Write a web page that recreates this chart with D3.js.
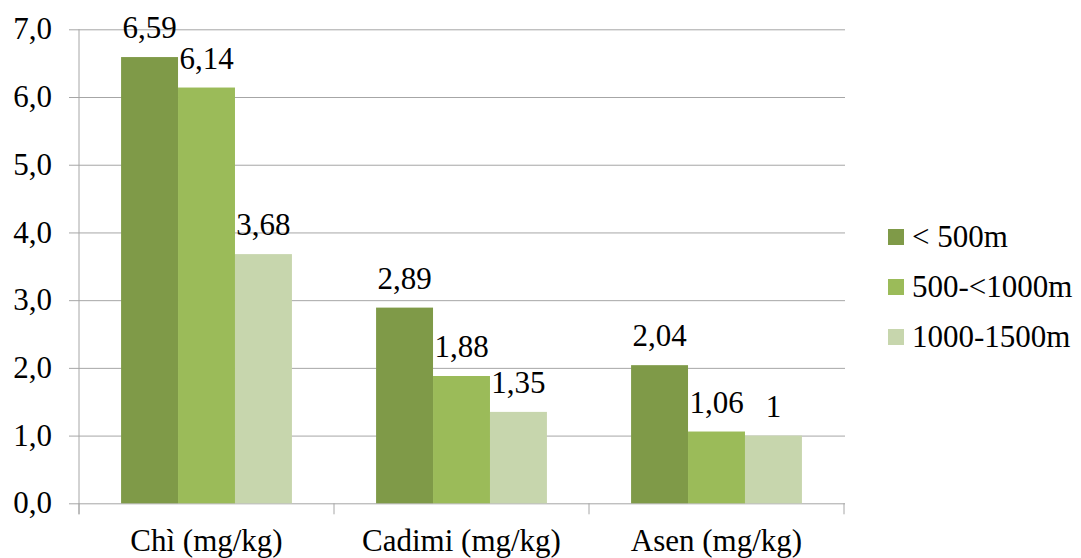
<!DOCTYPE html>
<html>
<head>
<meta charset="utf-8">
<script src="https://cdn.jsdelivr.net/npm/d3@7/dist/d3.min.js"></script>
</head>
<body style="margin:0;padding:0;background:#fff">
<svg id="chart" width="1081" height="558" style="display:block"></svg>
<script>
// Heavy metal content by altitude band
const categories = ["Chì (mg/kg)", "Cadimi (mg/kg)", "Asen (mg/kg)"];
const seriesNames = ["< 500m", "500-<1000m", "1000-1500m"];
const seriesColors = ["#7F9A48", "#9BBB59", "#C7D6AD"];
const below500 = [6.59, 2.89, 2.04];
const from500to1000 = [6.14, 1.88, 1.06];
const from1000to1500 = [3.68, 1.35, 1.00];
const yTicks = [0, 1, 2, 3, 4, 5, 6, 7];

const seriesValues = [below500, from500to1000, from1000to1500];

const svg = d3.select("#chart");
const plotLeft = 79, plotRight = 844, plotTop = 29.3, plotBottom = 503.3;
const fontSize = 31;
const fontFamily = "Liberation Serif";

const x = d3.scaleBand().domain(categories).range([plotLeft, plotRight]).paddingInner(0).paddingOuter(0);
const groupPad = 0.165;
const xSeries = d3.scaleBand().domain(seriesNames)
  .range([x.bandwidth() * groupPad, x.bandwidth() * (1 - groupPad)]).padding(0);
const y = d3.scaleLinear().domain([0, 7]).range([plotBottom, plotTop]);

const fmt = v => String(v).replace(".", ",");
const gridColor = "#A6A6A6";

function styleText(sel) {
  return sel.attr("font-family", fontFamily)
    .attr("font-size", fontSize)
    .attr("fill", "#000");
}

// Horizontal gridlines with short outward ticks
const yAxis = d3.axisLeft(y).tickValues(yTicks).tickSize(10).tickFormat(d => d3.format(".1f")(d).replace(".", ","));
const gy = svg.append("g").attr("transform", `translate(${plotLeft},0)`).call(yAxis);
gy.attr("font-family", fontFamily).attr("font-size", fontSize);
gy.select(".domain").remove();
gy.selectAll(".tick line").attr("stroke", gridColor);
gy.selectAll(".tick").append("line")
  .attr("x1", 0).attr("x2", plotRight - plotLeft + 1)
  .attr("stroke", gridColor).attr("stroke-width", 1);
styleText(gy.selectAll(".tick text"))
  .attr("x", -27).attr("dy", "0.31em");

// Vertical axis line
svg.append("line")
  .attr("x1", plotLeft).attr("x2", plotLeft)
  .attr("y1", plotTop).attr("y2", plotBottom + 11)
  .attr("stroke", gridColor);

// Category axis with boundary ticks
const gx = svg.append("g");
const bounds = categories.map(c => x(c)).concat([x(categories[categories.length - 1]) + x.bandwidth()]);
gx.selectAll("line.cb").data(bounds).enter().append("line")
  .attr("class", "cb")
  .attr("x1", d => d).attr("x2", d => d)
  .attr("y1", plotBottom).attr("y2", plotBottom + 11)
  .attr("stroke", gridColor);
styleText(gx.selectAll("text").data(categories).enter().append("text"))
  .attr("x", d => x(d) + x.bandwidth() / 2)
  .attr("y", 551)
  .attr("text-anchor", "middle")
  .text(d => d);

// Bars
const groups = svg.selectAll("g.cat").data(categories).enter().append("g")
  .attr("class", "cat")
  .attr("transform", d => `translate(${x(d)},0)`);

groups.each(function(cat, ci) {
  const g = d3.select(this);
  seriesNames.forEach((s, si) => {
    const v = seriesValues[si][ci];
    g.append("rect")
      .attr("x", xSeries(s))
      .attr("y", y(v))
      .attr("width", xSeries.bandwidth())
      .attr("height", y(0) - y(v))
      .attr("fill", seriesColors[si]);
  });
});

// Value labels
groups.each(function(cat, ci) {
  const g = d3.select(this);
  seriesNames.forEach((s, si) => {
    const v = seriesValues[si][ci];
    styleText(g.append("text"))
      .attr("x", xSeries(s) + xSeries.bandwidth() / 2)
      .attr("y", y(v) - 19)
      .attr("text-anchor", "middle")
      .text(fmt(v));
  });
});

// Legend
const legend = svg.append("g").attr("transform", "translate(888,237)");
seriesNames.forEach((s, i) => {
  const row = legend.append("g").attr("transform", `translate(0,${i * 50})`);
  row.append("rect").attr("x", 0).attr("y", -8).attr("width", 16).attr("height", 16)
    .attr("fill", seriesColors[i]);
  styleText(row.append("text")).attr("x", 24).attr("y", 0).attr("dy", "0.31em")
    .text(s);
});
</script>
</body>
</html>
